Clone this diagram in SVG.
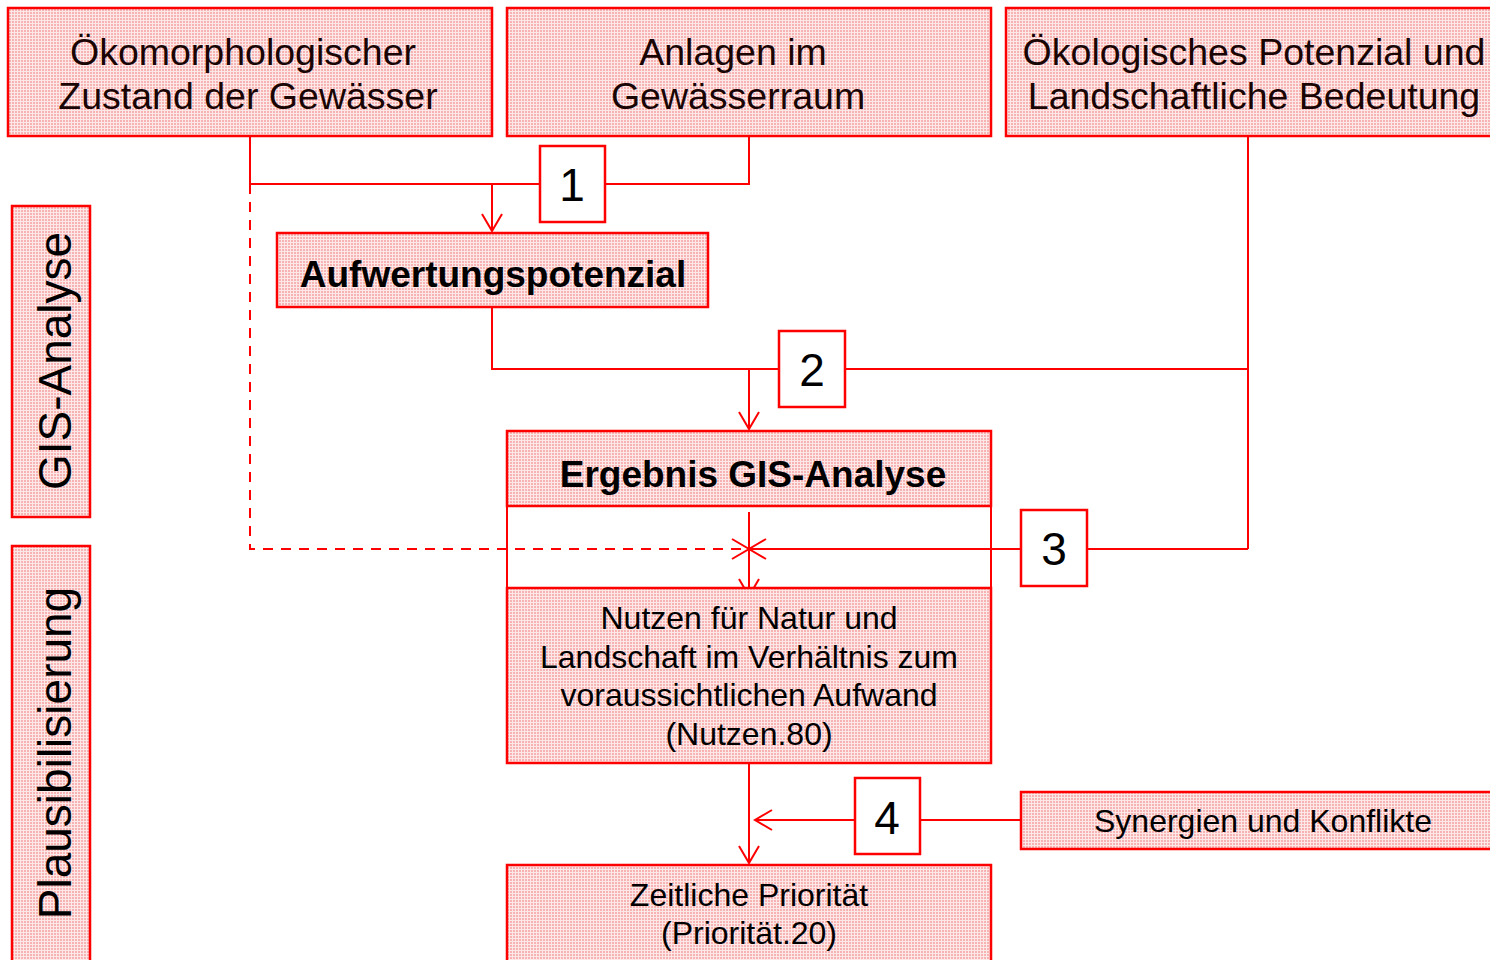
<svg xmlns="http://www.w3.org/2000/svg" width="1490" height="960" viewBox="0 0 1490 960">
<defs>
<pattern id="grid" width="3" height="3" patternUnits="userSpaceOnUse">
<rect width="3" height="3" fill="#f7b3b3"/>
<rect x="2" y="0" width="1" height="3" fill="#fde8e8"/>
<rect x="0" y="2" width="3" height="1" fill="#fde8e8"/>
</pattern>
<marker id="arr" viewBox="-19 -12 21 24" refX="0" refY="0" markerWidth="21" markerHeight="24" markerUnits="userSpaceOnUse" orient="auto">
<path d="M-17,-10 L0,0 L-17,10" fill="none" stroke="#ff0000" stroke-width="2"/>
</marker>
<style>
.box{fill:url(#grid);stroke:#ff0000;stroke-width:2.5}
.num{fill:#ffffff;stroke:#ff0000;stroke-width:2.5}
.ln{fill:none;stroke:#ff0000;stroke-width:2}
.t{font-family:"Liberation Sans",Arial,sans-serif;fill:#1a0505;text-anchor:middle}
.big{font-size:37.5px}
.mid{font-size:32px;fill:#000}
.bold{font-size:37px;font-weight:bold;fill:#000}
.n{font-size:46px;fill:#000}
.side{font-size:46px;fill:#000}
</style>
</defs>

<g id="connectors">
<polyline class="ln" points="250,136 250,184 540,184"/>
<polyline class="ln" points="605,184 749,184 749,136"/>
<line class="ln" x1="492" y1="184" x2="492" y2="231" marker-end="url(#arr)"/>
<polyline class="ln" points="492,307 492,369 779,369"/>
<line class="ln" x1="845" y1="369" x2="1248" y2="369"/>
<line class="ln" x1="1248" y1="136" x2="1248" y2="549"/>
<line class="ln" x1="749" y1="369" x2="749" y2="429" marker-end="url(#arr)"/>
<polyline class="ln" points="250,184 250,549 749,549" stroke-dasharray="10,8" marker-end="url(#arr)"/>
<polyline class="ln" points="1248,549 1087,549"/>
<line class="ln" x1="1021" y1="549" x2="749" y2="549" marker-end="url(#arr)"/>
<line class="ln" x1="749" y1="512" x2="749" y2="596" marker-end="url(#arr)"/>
<line class="ln" x1="749" y1="763" x2="749" y2="863" marker-end="url(#arr)"/>
<line class="ln" x1="855" y1="820" x2="755" y2="820" marker-end="url(#arr)"/>
<line class="ln" x1="920" y1="820" x2="1021" y2="820"/>
<polyline class="ln" points="507,506 507,588"/>
<polyline class="ln" points="991,506 991,588"/>
</g>

<g id="node-oekomorph">
<rect class="box" x="8" y="8" width="484" height="128"/>
<text class="t big" x="243" y="65">Ökomorphologischer</text>
<text class="t big" x="248" y="109">Zustand der Gewässer</text>
</g>
<g id="node-anlagen">
<rect class="box" x="507" y="8" width="484" height="128"/>
<text class="t big" x="733" y="65">Anlagen im</text>
<text class="t big" x="738" y="109">Gewässerraum</text>
</g>
<g id="node-oekolog">
<rect class="box" x="1006" y="8" width="490" height="128"/>
<text class="t big" x="1254" y="65">Ökologisches Potenzial und</text>
<text class="t big" x="1254" y="109">Landschaftliche Bedeutung</text>
</g>
<g id="node-1">
<rect class="num" x="540" y="146" width="65" height="76"/>
<text class="t n" x="572" y="201">1</text>
</g>
<g id="node-aufwertung">
<rect class="box" x="277" y="233" width="431" height="74"/>
<text class="t bold" x="493" y="287">Aufwertungspotenzial</text>
</g>
<g id="node-2">
<rect class="num" x="779" y="331" width="66" height="76"/>
<text class="t n" x="812" y="386">2</text>
</g>
<g id="node-ergebnis">
<rect class="box" x="507" y="431" width="484" height="75"/>
<text class="t bold" x="753" y="487">Ergebnis GIS-Analyse</text>
</g>
<g id="node-3">
<rect class="num" x="1021" y="510" width="66" height="76"/>
<text class="t n" x="1054" y="565">3</text>
</g>
<g id="node-nutzen">
<rect class="box" x="507" y="588" width="484" height="175"/>
<text class="t mid" x="749" y="629">Nutzen für Natur und</text>
<text class="t mid" x="749" y="668">Landschaft im Verhältnis zum</text>
<text class="t mid" x="749" y="706">voraussichtlichen Aufwand</text>
<text class="t mid" x="749" y="745">(Nutzen.80)</text>
</g>
<g id="node-4">
<rect class="num" x="855" y="778" width="65" height="76"/>
<text class="t n" x="887" y="834">4</text>
</g>
<g id="node-synergien">
<rect class="box" x="1021" y="792" width="475" height="57"/>
<text class="t mid" x="1263" y="832">Synergien und Konflikte</text>
</g>
<g id="node-zeitlich">
<rect class="box" x="507" y="865" width="484" height="110"/>
<text class="t mid" x="749" y="906">Zeitliche Priorität</text>
<text class="t mid" x="749" y="944">(Priorität.20)</text>
</g>
<g id="node-gis">
<rect class="box" x="12" y="206" width="78" height="311"/>
<text class="t side" transform="translate(71,361) rotate(-90)">GIS-Analyse</text>
</g>
<g id="node-plaus">
<rect class="box" x="12" y="546" width="78" height="430"/>
<text class="t side" transform="translate(71,753) rotate(-90)">Plausibilisierung</text>
</g>
</svg>
